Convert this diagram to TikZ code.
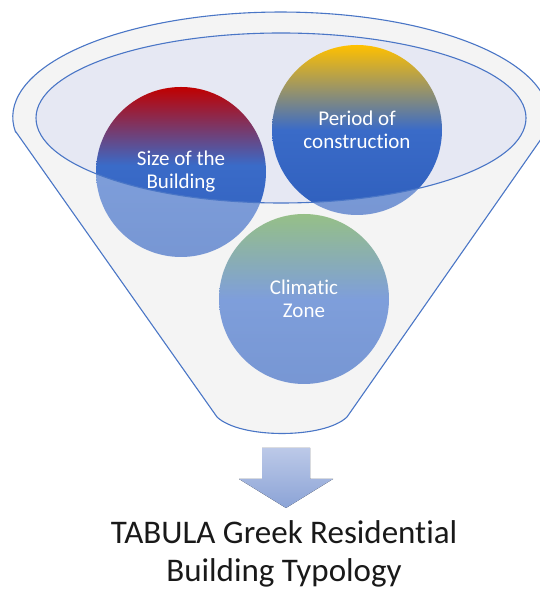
\documentclass[tikz,border=0pt]{standalone}
\usepackage{fontspec}
\setmainfont{Carlito}[Ligatures=NoCommon]
\usetikzlibrary{positioning}
\definecolor{funnelline}{HTML}{4A76C6}
\definecolor{funnelgray}{HTML}{EFEFEF}
\definecolor{mouth}{HTML}{E6E8F3}
\definecolor{sizered}{HTML}{C00000}
\definecolor{periodgold}{HTML}{FFC000}
\definecolor{zonegreen}{HTML}{5E9E47}
\definecolor{midblue}{HTML}{3A6BC8}
\definecolor{lowblue}{HTML}{2F5FBD}
\definecolor{arrowtop}{HTML}{BCC9E8}
\definecolor{arrowbot}{HTML}{8BA3D6}
\pgfdeclareverticalshading{sizeshade}{100bp}{color(0bp)=(lowblue); color(25bp)=(lowblue);
  color(52bp)=(midblue); color(75bp)=(sizered); color(100bp)=(sizered)}
\pgfdeclareverticalshading{periodshade}{100bp}{color(0bp)=(lowblue); color(25bp)=(lowblue);
  color(50bp)=(midblue); color(75bp)=(periodgold); color(100bp)=(periodgold)}
\pgfdeclareverticalshading{zoneshade}{100bp}{color(0bp)=(lowblue); color(25bp)=(lowblue);
  color(50bp)=(midblue); color(75bp)=(zonegreen); color(100bp)=(zonegreen)}
\tikzstyle{ball} = [circle, minimum size=170pt, inner sep=0pt, text=white,
align=center, font=\fontsize{21}{23}\selectfont]
\tikzstyle{rim} = [draw=funnelline, line width=1.1pt]
\newcommand{\funnelpath}{(16,457) -- (217,172) .. controls (240,150) and (324,150) .. (347,172)
  -- (546,457) arc[start angle=-8.2, end angle=188.2, x radius=268, y radius=105] -- cycle}

\begin{document}
\begin{tikzpicture}[x=1pt, y=1pt]

      \useasboundingbox (0,0) rectangle (539,589);

      % funnel body and its mouth
      \fill[funnelgray] \funnelpath;
      \fill[mouth] (281,471) ellipse [x radius=245, y radius=85];

      \node (size) [ball, shading=sizeshade] at (181,417) {Size of the\\ Building};
      \node (period) [ball, shading=periodshade] at (357,459) {Period of\\ construction};
      \node (zone) [ball, shading=zoneshade] at (304,290) {Climatic\\ Zone};

      % glass of the funnel over the balls
      \fill[white, fill opacity=0.35, even odd rule] \funnelpath
        (281,471) ellipse [x radius=245, y radius=85];
      \draw[rim] \funnelpath;
      \draw[rim] (281,471) ellipse [x radius=245, y radius=85];

      \fill[top color=arrowtop, bottom color=arrowbot] (262,141) -- (310,141) -- (310,110)
        -- (333,110) -- (286,81) -- (239,110) -- (262,110) -- cycle;

      \node (typology) [font=\fontsize{33}{38}\selectfont, align=center, text=black!90]
        at (284,35) {TABULA Greek Residential\\ Building Typology};

\end{tikzpicture}
\end{document}
